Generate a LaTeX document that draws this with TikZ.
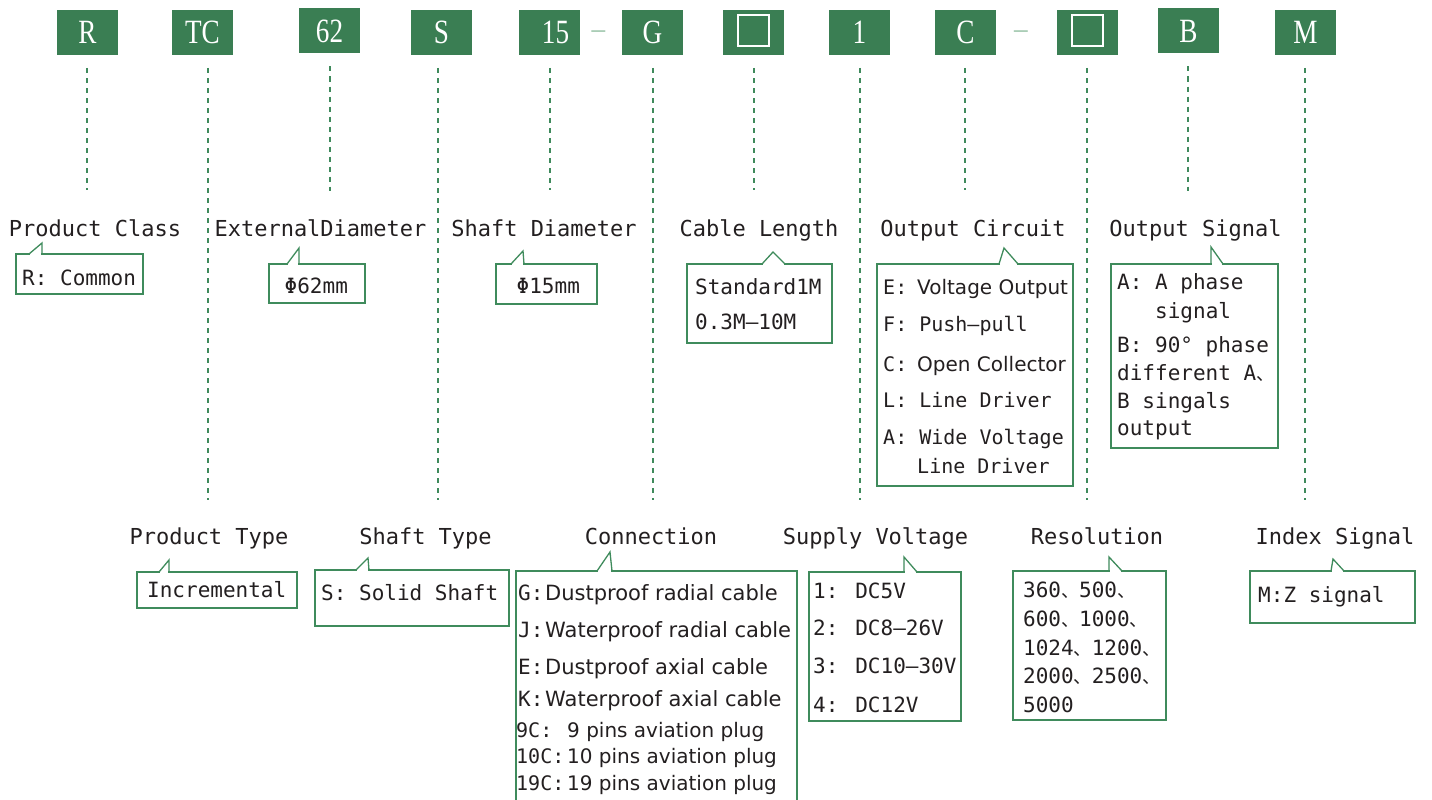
\documentclass[tikz,border=0pt]{standalone}
\usepackage{fontspec}
\setmainfont{DejaVu Sans}
\newfontfamily\monofont{DejaVu Sans Mono}
\newfontfamily\propfont{DejaVu Sans}
\newfontfamily\cjkfont{Noto Sans CJK SC}
\newfontfamily\codefont[FakeStretch=0.8]{Liberation Serif}
\usepackage{tikz}
\usetikzlibrary{
  calc,
  positioning,
}

\definecolor{codegreen}{HTML}{3A7E53}
\definecolor{guidegreen}{HTML}{3F8A5C}
\definecolor{boxgreen}{HTML}{3F8B5C}
\definecolor{dashgreen}{HTML}{A3C9B0}
\definecolor{ink}{HTML}{231F20}

\newcommand\padto[2]{\makebox[#1][l]{#2}}
\newcommand\dunhao{{\cjkfont\fontsize{18}{20}\selectfont 、}}

\tikzset{
  codebox/.style={fill=codegreen, text=white, minimum width=61pt, minimum height=45pt,
    inner sep=0pt, outer sep=0pt, font=\codefont\fontsize{34}{34}\selectfont},
  slotbox/.style={draw=white, line width=1.4pt, minimum size=31pt, inner sep=0pt},
  sepmark/.style={anchor=base, inner sep=0pt, text=dashgreen,
    font=\codefont\fontsize{34}{34}\selectfont},
  guideline/.style={draw=guidegreen, line width=1.5pt, dash pattern=on 5pt off 5pt},
  fieldname/.style={anchor=base, inner sep=0pt, text=ink,
    font=\monofont\fontsize{22}{26}\selectfont},
  calloutbox/.style={draw=boxgreen, line width=1.3pt, fill=white, inner sep=0pt,
    outer sep=0pt, anchor=north west},
  pointer/.style={draw=boxgreen, line width=1.3pt, line join=miter},
  itemtext/.style={anchor=base west, inner sep=0pt, text=ink,
    font=\monofont\fontsize{21}{25}\selectfont},
}

\begin{document}
\begin{tikzpicture}[x=1pt, y=-1pt]
  \useasboundingbox (0, 0) rectangle (1432, 800);

  % the model code
  \foreach \n/\x/\y/\t in {class/87.5/32.5/R, type/202.5/32.5/TC, outer/329.5/31/62,
    shaft/441.5/32.5/S, bore/549.5/32.5/{\hspace{12pt}15}, conn/652.5/32.5/G,
    cable/753.5/32.5/{}, supply/859.5/32.5/1, circuit/965.5/32.5/C,
    res/1087.5/32.5/{}, signal/1188.5/31/B, index/1305.5/32.5/M}
  {
    \node [codebox] (\n) at (\x, \y) {\t};
  }
  \node [slotbox] (cable slot) at ([yshift=2pt]cable.center) {};
  \node [slotbox] (res slot) at ([yshift=2pt]res.center) {};
  \node [sepmark] (sep a) at (598.5, 40) {–};
  \node [sepmark] (sep b) at (1021, 40) {–};

  \foreach \n/\dx/\len in {class/-0.5/135, type/5.5/445, outer/0.5/137, shaft/-3.5/445,
    bore/0.5/135, conn/0.5/445, cable/0.5/135, supply/0.5/445, circuit/-0.5/135,
    res/-0.5/445, signal/-0.5/137, index/-0.5/445}
  {
    \draw [guideline] ($(\n.south)+(\dx, 13)$) -- ($(\n.south)+(\dx, \len)$);
  }

  % field names
  \foreach \n/\x/\y/\t in {class/95/236/Product Class, outer/320.5/236/ExternalDiameter,
    bore/544/236/Shaft Diameter, cable/759/236/Cable Length,
    circuit/973/236/Output Circuit, signal/1195.5/236/Output Signal,
    type/209/544/Product Type, shaft/425.5/544/Shaft Type, conn/651/544/Connection,
    supply/875.5/544/Supply Voltage, res/1097/544/Resolution, index/1335/544/Index Signal}
  {
    \node [fieldname] (\n name) at (\x, \y) {\t};
  }

  % callouts
  \foreach \n/\x/\y/\w/\h in {class/16/254/127/40, outer/269/264/96/39, bore/496/264/101/40,
    cable/687/264/145/79, circuit/877/264/196/222, signal/1111/264/167/184,
    type/137/572/160/36, shaft/315/570/194/56, conn/516/571/281/239,
    supply/809/572/152/149, res/1013/571/153/149, index/1250/571/165/52}
  {
    \node [calloutbox, minimum width=\w pt, minimum height=\h pt] (\n box) at (\x, \y) {};
  }
  \foreach \n/\l/\t/\r/\h in {class/13/26/26/11, outer/18/30/30/16, bore/15/27/28/13,
    cable/75/86/98/12, circuit/122/127/141/16, signal/100/100/112/17,
    type/22/32/32/12, shaft/41/53/54/12, conn/81/94/96/19,
    supply/95/95/108/15, res/96/96/109/14, index/81/83/94/12}
  {
    \draw [white, line width=2.6pt] ($(\n box.north west)+(\l+1, 0)$) -- ($(\n box.north west)+(\r-1, 0)$);
    \draw [pointer] ($(\n box.north west)+(\l, 0)$) -- ($(\n box.north west)+(\t, -\h)$)
      -- ($(\n box.north west)+(\r, 0)$);
  }

  % callout texts
  \foreach \x/\y/\t [count=\i] in {22/285/{R: Common}, 284.5/293/{Φ62mm},
    516.5/293/{Φ15mm}, 695/294/{Standard1M}, 695/329/{0.3M–10M},
    1117/289/{A: A phase}, 1155/318/{signal}, 1117/352/{B: 90° phase},
    1117/380/{different A\dunhao}, 1117/408/{B singals}, 1117/435/{output},
    147/597/{Incremental}, 321/600/{S: Solid Shaft},
    813/598/{1: DC5V}, 813/635/{2: DC8–26V}, 813/673/{3: DC10–30V}, 813/712/{4: DC12V},
    1023/597/{360\dunhao 500\dunhao}, 1023/626/{600\dunhao 1000\dunhao},
    1023/655/{1024\dunhao 1200\dunhao}, 1023/683/{2000\dunhao 2500\dunhao},
    1023/712/{5000}, 1258/602/{M:Z signal}}
  {
    \node [itemtext] (item \i) at (\x, \y) {\t};
  }
  \foreach \x/\y/\t [count=\i] in {883/294/{\padto{34pt}{E:}{\propfont Voltage Output}},
    883/331/{F: Push–pull}, 883/371/{\padto{34pt}{C:}{\propfont Open Collector}},
    883/407/{L: Line Driver}, 883/444/{A: Wide Voltage}, 917/473/{Line Driver}}
  {
    \node [itemtext, font=\monofont\fontsize{20}{24}\selectfont] (circuit \i) at (\x, \y) {\t};
  }
  \foreach \x/\y/\t [count=\i] in {518/600/{\padto{27pt}{G:}{\propfont Dustproof radial cable}},
    518/637/{\padto{27pt}{J:}{\propfont Waterproof radial cable}},
    518/674/{\padto{27pt}{E:}{\propfont Dustproof axial cable}},
    518/706/{\padto{27pt}{K:}{\propfont Waterproof axial cable}},
    516/737/{\fontsize{20}{24}\selectfont\padto{51pt}{9C:}{\propfont 9 pins aviation plug}},
    516/763/{\fontsize{20}{24}\selectfont\padto{51pt}{10C:}{\propfont 10 pins aviation plug}},
    516/790/{\fontsize{20}{24}\selectfont\padto{51pt}{19C:}{\propfont 19 pins aviation plug}}}
  {
    \node [itemtext] (conn \i) at (\x, \y) {\t};
  }
\end{tikzpicture}
\end{document}
